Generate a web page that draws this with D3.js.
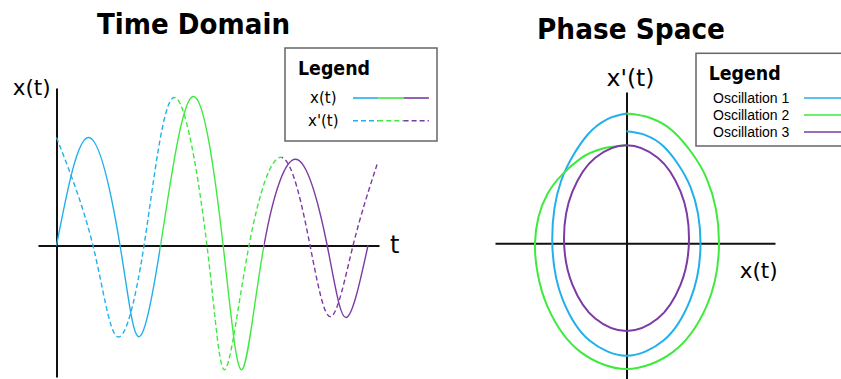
<!DOCTYPE html>
<html>
<head>
<meta charset="utf-8">
<script src="https://cdn.jsdelivr.net/npm/d3@7"></script>
<style>
  html, body { margin: 0; padding: 0; background: #fff; }
  svg { display: block; }
</style>
</head>
<body>
<svg id="chart" width="841" height="379"></svg>
<script>
// time domain: solid = x(t), dashed = x'(t)
const tSolid  = [0, 1.04, 2.04, 2.62, 3.34, 4.38, 5.35, 5.96, 6.66, 7.72, 8.69, 9.30, 10.0];
const xSolid  = [0, 1.08, 0, -0.91, 0, 1.49, 0, -1.24, 0, 0.86, 0, -0.72, 0];
const tDashed = [0, 1.17, 1.94, 2.81, 3.77, 4.83, 5.41, 6.18, 7.24, 8.14, 8.81, 9.52, 10.29];
const xDashed = [1.08, 0, -0.91, 0, 1.48, 0, -1.24, 0, 0.88, 0, -0.71, 0, 0.81];
// where one oscillation hands over to the next
const solidBreaks  = [3.34, 6.66];
const dashedBreaks = [3.77, 7.24];

// phase space (x, x')
const osc1X = [0, 0.19, 0.37, 0.64, 0.74, 0.64, 0.37, 0, -0.37, -0.64, -0.742, -0.655, -0.385, -0.195, 0];
const osc1V = [1.12, 1.082, 0.97, 0.56, 0, -0.56, -0.975, -1.127, -0.975, -0.56, 0, 0.62, 1.09, 1.24, 1.297];
const osc2X = [0, 0.24, 0.4625, 0.801, 0.925, 0.801, 0.4625, 0, -0.4575, -0.792, -0.915, -0.792, -0.4575, -0.237, 0];
const osc2V = [1.297, 1.253, 1.123, 0.649, 0, -0.63, -1.091, -1.26, -1.091, -0.63, 0, 0.49, 0.849, 0.947, 0.98];
const osc3X = [0, 0.3125, 0.541, 0.625, 0.541, 0.3125, 0, -0.3125, -0.541, -0.625, -0.541, -0.3125];
const osc3V = [0.98, 0.855, 0.515, 0.05, -0.415, -0.755, -0.88, -0.755, -0.415, 0.05, 0.515, 0.855];

const oscNames  = ["Oscillation 1", "Oscillation 2", "Oscillation 3"];
const oscColors = ["#22b0ea", "#3fea3f", "#7b3ba3"];
const tdLegend  = ["x(t)", "x'(t)"];

const svg = d3.select("#chart");
const defs = svg.append("defs");

function boldText(sel, txt, len) {
    return sel.attr("font-family", "DejaVu Sans").attr("font-weight", "bold")
        .attr("textLength", len).attr("lengthAdjust", "spacingAndGlyphs")
        .text(txt);
}

// ---------- Time Domain ----------
const x = d3.scaleLinear().domain([-0.594, 10.353]).range([38, 379]);
const y = d3.scaleLinear().domain([-1.315, 1.575]).range([377, 88]);

boldText(svg.append("text")
    .attr("x", 97).attr("y", 34.3)
    .attr("font-size", 28.5), "Time Domain", 193);

const xAxis = svg.append("g")
    .attr("transform", `translate(0,${y(0)})`)
    .call(d3.axisBottom(x).ticks(0).tickSizeOuter(0));
const yAxis = svg.append("g")
    .attr("transform", `translate(${x(0)},0)`)
    .call(d3.axisLeft(y).ticks(0).tickSizeOuter(0));

svg.append("text")
    .attr("x", 390).attr("y", 253)
    .attr("font-family", "DejaVu Sans").attr("font-size", 24)
    .text("t");
svg.append("text")
    .attr("x", 31.7).attr("y", 95)
    .attr("text-anchor", "middle")
    .attr("font-family", "DejaVu Sans").attr("font-size", 21.5)
    .text("x(t)");

// one clip per oscillation so a single smooth curve can change colour
function makeClips(prefix, breaks) {
    const edges = [0].concat(breaks.map(b => x(b)), [841]);
    oscColors.forEach((c, i) => {
        defs.append("clipPath").attr("id", prefix + i)
            .append("rect")
            .attr("x", edges[i]).attr("y", 0)
            .attr("width", edges[i + 1] - edges[i]).attr("height", 379);
    });
}
makeClips("solid", solidBreaks);
makeClips("dash", dashedBreaks);

const tdLine = d3.line()
    .x(d => x(d[0]))
    .y(d => y(d[1]))
    .curve(d3.curveNatural);

const solidPts  = tSolid.map((t, i) => [t, xSolid[i]]);
const dashedPts = tDashed.map((t, i) => [t, xDashed[i]]);

oscColors.forEach((c, i) => {
    svg.append("path")
        .attr("d", tdLine(dashedPts))
        .attr("fill", "none")
        .attr("stroke", c)
        .attr("stroke-width", 1.4)
        .attr("stroke-dasharray", "5,3")
        .attr("clip-path", `url(#dash${i})`);
    svg.append("path")
        .attr("d", tdLine(solidPts))
        .attr("fill", "none")
        .attr("stroke", c)
        .attr("stroke-width", 1.4)
        .attr("clip-path", `url(#solid${i})`);
});

[xAxis, yAxis].forEach(a => a.select(".domain").attr("stroke", "#111").attr("stroke-width", 2));

// legend (time domain)
const leg1 = svg.append("g");
leg1.append("rect")
    .attr("x", 285).attr("y", 48).attr("width", 152).attr("height", 93)
    .attr("fill", "#fff").attr("stroke", "#666").attr("stroke-width", 1.5);
boldText(leg1.append("text")
    .attr("x", 298).attr("y", 75)
    .attr("font-size", 19.5), "Legend", 72);
const legY = [98, 120.7];
tdLegend.forEach((name, r) => {
    leg1.append("text")
        .attr("x", 323.3).attr("y", legY[r] + 5)
        .attr("text-anchor", "middle")
        .attr("font-family", "DejaVu Sans").attr("font-size", 15)
        .text(name);
    oscColors.forEach((c, i) => {
        leg1.append("line")
            .attr("x1", 353 + i * 25.3).attr("x2", 353 + (i + 1) * 25.3)
            .attr("y1", legY[r]).attr("y2", legY[r])
            .attr("stroke", c).attr("stroke-width", 1.6)
            .attr("stroke-dasharray", r === 1 ? "5,3" : null);
    });
});

// ---------- Phase Space ----------
const px = d3.scaleLinear().domain([-1.315, 1.485]).range([495, 775]);
const py = d3.scaleLinear().domain([-1.36, 1.513]).range([379, 92]);

boldText(svg.append("text")
    .attr("x", 537).attr("y", 39.3)
    .attr("font-size", 28.5), "Phase Space", 188);

const pxAxis = svg.append("g")
    .attr("transform", `translate(0,${py(0)})`)
    .call(d3.axisBottom(px).ticks(0).tickSizeOuter(0));
const pyAxis = svg.append("g")
    .attr("transform", `translate(${px(0)},0)`)
    .call(d3.axisLeft(py).ticks(0).tickSizeOuter(0));
[pxAxis, pyAxis].forEach(a => a.select(".domain").attr("stroke", "#111").attr("stroke-width", 2));

svg.append("text")
    .attr("x", 630.5).attr("y", 86)
    .attr("text-anchor", "middle")
    .attr("font-family", "DejaVu Sans").attr("font-size", 23.5)
    .text("x'(t)");
svg.append("text")
    .attr("x", 758.7).attr("y", 278)
    .attr("text-anchor", "middle")
    .attr("font-family", "DejaVu Sans").attr("font-size", 21.5)
    .text("x(t)");

const phaseLine = d3.line()
    .x(d => px(d[0]))
    .y(d => py(d[1]));

const phaseSets = [
    { pts: osc1X.map((v, i) => [v, osc1V[i]]), curve: d3.curveCatmullRom.alpha(0.5) },
    { pts: osc2X.map((v, i) => [v, osc2V[i]]), curve: d3.curveCatmullRom.alpha(0.5) },
    { pts: osc3X.map((v, i) => [v, osc3V[i]]), curve: d3.curveCatmullRomClosed.alpha(0.5) }
];
phaseSets.forEach((s, i) => {
    svg.append("path")
        .attr("d", phaseLine.curve(s.curve)(s.pts))
        .attr("fill", "none")
        .attr("stroke", oscColors[i])
        .attr("stroke-width", 2);
});

// legend (phase space)
const leg2 = svg.append("g");
leg2.append("rect")
    .attr("x", 696).attr("y", 53.3).attr("width", 160).attr("height", 92.7)
    .attr("fill", "#fff").attr("stroke", "#666").attr("stroke-width", 1.5);
boldText(leg2.append("text")
    .attr("x", 708.7).attr("y", 80)
    .attr("font-size", 19.5), "Legend", 72);
const rowY = [98, 115, 132];
oscNames.forEach((name, i) => {
    leg2.append("text")
        .attr("x", 713).attr("y", rowY[i] + 5)
        .attr("font-family", "Liberation Sans").attr("font-size", 14)
        .text(name);
    leg2.append("line")
        .attr("x1", 804).attr("x2", 850)
        .attr("y1", rowY[i]).attr("y2", rowY[i])
        .attr("stroke", oscColors[i]).attr("stroke-width", 1.6);
});
</script>
</body>
</html>
